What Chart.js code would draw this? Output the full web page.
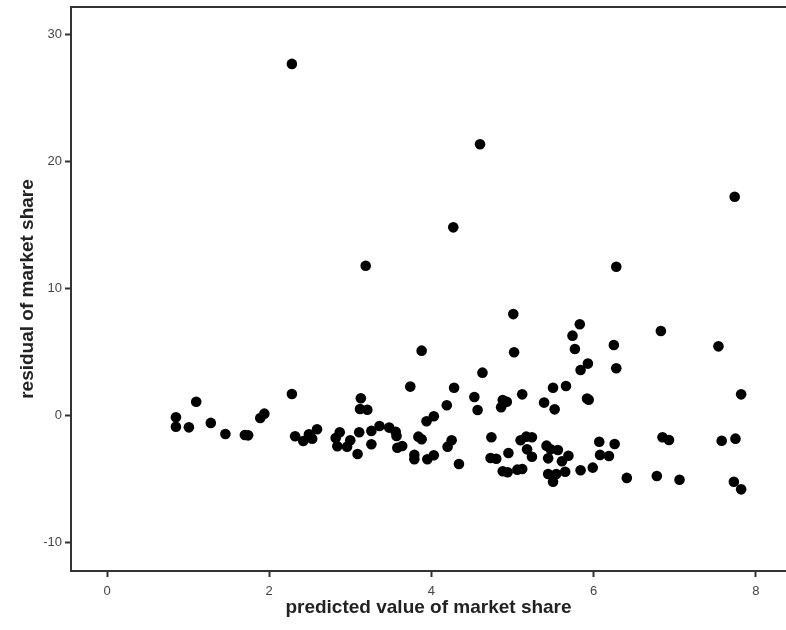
<!DOCTYPE html>
<html>
<head>
<meta charset="utf-8">
<script src="https://cdn.jsdelivr.net/npm/chart.js@4"></script>
<style>
    html, body { margin: 0; padding: 0; background: #fff; overflow: hidden; }
    canvas { display: block; }
</style>
</head>
<body>
<canvas id="residChart" width="786" height="630" style="width:786px;height:630px"></canvas>
<script>
"use strict";

// predicted value (x) and residual (y) of market share, one entry per case
var predicted = [
    2.28, 4.60, 7.74, 4.27, 3.19, 6.28, 5.01,
    5.83, 6.83, 5.74, 5.77, 3.88, 5.02, 6.25, 7.54, 5.93, 5.84, 6.28, 4.63, 3.74,
    4.28, 5.50, 5.66, 7.82, 5.12, 4.53, 4.19, 4.57, 4.88, 4.93, 4.86, 5.39, 5.52,
    5.92, 5.94, 4.03, 3.94,
    0.85, 0.85, 1.01, 1.10, 1.28, 1.46, 1.70, 1.74, 1.89, 1.94, 2.28, 2.32, 2.42,
    2.49, 2.53, 2.59, 2.82, 2.87, 2.84, 2.96, 3.00, 3.09, 3.13, 3.12, 3.21, 3.11,
    3.26, 3.26, 3.36, 3.48, 3.56, 3.57, 3.58, 3.64,
    3.84, 3.88, 3.79, 3.79, 3.95, 4.03, 4.20, 4.25, 4.34, 4.74, 4.73, 4.80, 4.95,
    4.88, 4.94, 5.06, 5.12, 5.10, 5.17, 5.24, 5.18, 5.24, 5.42, 5.47, 5.56, 5.44,
    5.44, 5.50, 5.54, 5.65, 5.61, 5.69, 5.84, 5.99, 6.07, 6.26, 6.08, 6.19, 6.41,
    6.78, 7.06, 6.85, 6.93, 7.58, 7.75, 7.73, 7.82
];
var residual = [
    27.70, 21.37, 17.24, 14.83, 11.81, 11.73, 8.00,
    7.20, 6.67, 6.30, 5.25, 5.12, 4.99, 5.57, 5.46, 4.10, 3.60, 3.73, 3.39, 2.29,
    2.20, 2.20, 2.34, 1.68, 1.68, 1.47, 0.82, 0.45, 1.24, 1.10, 0.66, 1.03, 0.50,
    1.35, 1.25, -0.05, -0.44,
    -0.13, -0.87, -0.92, 1.10, -0.57, -1.44, -1.52, -1.55, -0.18, 0.16, 1.71, -1.62, -1.99,
    -1.47, -1.81, -1.07, -1.76, -1.31, -2.41, -2.44, -1.94, -3.02, 1.37, 0.53, 0.47, -1.31,
    -1.20, -2.25, -0.81, -0.94, -1.26, -1.60, -2.52, -2.39,
    -1.65, -1.86, -3.09, -3.43, -3.43, -3.12, -2.44, -1.94, -3.80, -1.70, -3.33, -3.39, -2.94,
    -4.38, -4.46, -4.25, -4.20, -1.94, -1.65, -1.70, -2.65, -3.23, -2.36, -2.65, -2.70, -3.36,
    -4.59, -5.20, -4.59, -4.41, -3.59, -3.15, -4.30, -4.09, -2.05, -2.23, -3.09, -3.17, -4.90,
    -4.75, -5.04, -1.70, -1.91, -1.97, -1.81, -5.20, -5.80
];

// tick labels
var xTicks = [0, 2, 4, 6, 8];
var yTicks = [-10, 0, 10, 20, 30];

var axisColor = "#333333";
var labelFont = { family: "'Liberation Sans', Arial, sans-serif", size: 13 };
var titleFont = { family: "'Liberation Sans', Arial, sans-serif", size: 19, weight: "bold" };

// top edge of the frame (right edge is cut off in the original)
var frameTop = {
    id: "frameTop",
    afterDraw: function (chart) {
        var ctx = chart.ctx, a = chart.chartArea;
        ctx.save();
        ctx.strokeStyle = axisColor;
        ctx.lineWidth = 2;
        ctx.beginPath();
        ctx.moveTo(a.left, a.top);
        ctx.lineTo(a.right, a.top);
        ctx.stroke();
        ctx.restore();
    }
};

// keep the axes from pushing the plot area inwards for their end labels
function noScalePadding(axis) {
    axis.paddingTop = 0;
    axis.paddingBottom = 0;
    axis.paddingLeft = 0;
    axis.paddingRight = 0;
}

var points = predicted.map(function (x, i) {
    return { x: x, y: residual[i] };
});

new Chart(document.getElementById("residChart"), {
    type: "scatter",
    data: {
        datasets: [
            {
                data: points,
                backgroundColor: "#000000",
                borderWidth: 0,
                pointRadius: 5.3,
                pointHoverRadius: 5.3,
            },
        ],
    },
    options: {
        responsive: false,
        maintainAspectRatio: false,
        devicePixelRatio: 1,
        animation: false,
        layout: { autoPadding: false, padding: { top: 7, right: 0, left: 0, bottom: 0 } },
        plugins: {
            legend: { display: false },
            tooltip: { enabled: false },
        },
        scales: {
            x: {
                type: "linear",
                min: -0.444,
                max: 8.373,
                afterBuildTicks: function (axis) {
                    axis.ticks = xTicks.map(function (v) { return { value: v }; });
                },
                afterFit: function (axis) {
                    axis.height = 59;
                    noScalePadding(axis);
                },
                border: { color: axisColor, width: 2 },
                grid: { drawOnChartArea: false, drawTicks: true, tickLength: 6, color: axisColor, tickWidth: 2 },
                ticks: { color: "#444", font: labelFont, padding: 7, maxRotation: 0 },
                title: {
                    display: true,
                    text: "predicted value of market share",
                    color: "#222",
                    font: titleFont,
                    padding: { top: 0, bottom: 11 },
                },
            },
            y: {
                type: "linear",
                min: -12.23,
                max: 32.18,
                afterBuildTicks: function (axis) {
                    axis.ticks = yTicks.map(function (v) { return { value: v }; });
                },
                afterFit: function (axis) {
                    axis.width = 71;
                    noScalePadding(axis);
                },
                border: { color: axisColor, width: 2 },
                grid: { drawOnChartArea: false, drawTicks: true, tickLength: 6, color: axisColor, tickWidth: 2 },
                ticks: { color: "#444", font: labelFont, padding: 3 },
                title: {
                    display: true,
                    text: "residual of market share",
                    color: "#222",
                    font: titleFont,
                    padding: 16,
                },
            },
        },
    },
    plugins: [frameTop],
});
</script>
</body>
</html>
